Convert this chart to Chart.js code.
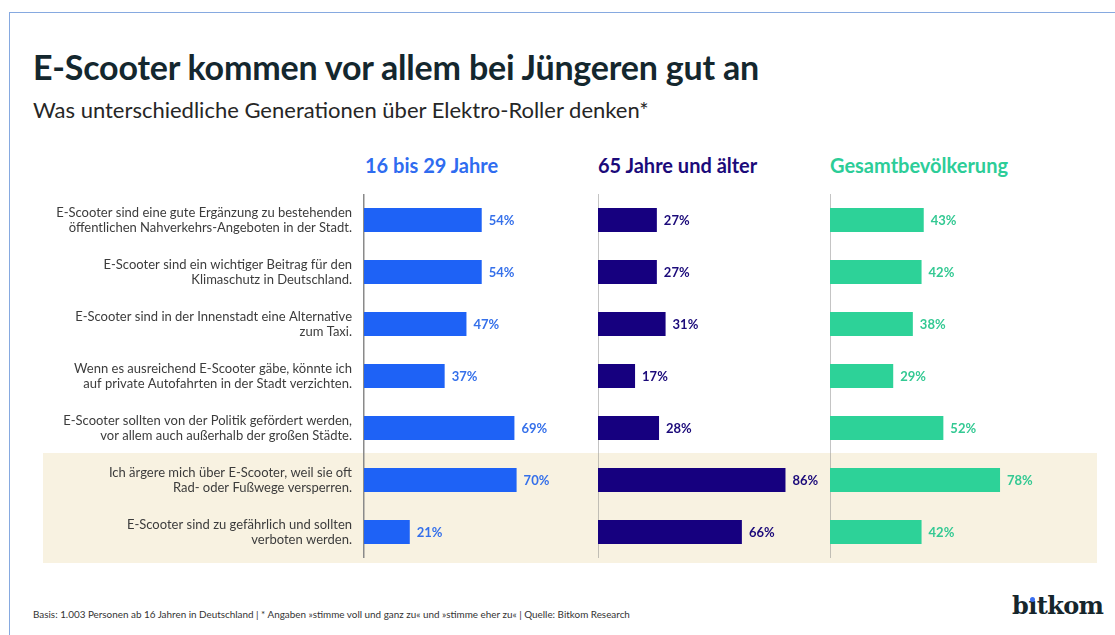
<!DOCTYPE html>
<html>
<head>
<meta charset="utf-8">
<script src="https://cdn.jsdelivr.net/npm/chart.js@4.4.1/dist/chart.umd.min.js"></script>
<style>
  html, body { margin: 0; padding: 0; background: #fff; }
  body { width: 1115px; height: 635px; position: relative; overflow: hidden; font-family: Lato, 'Open Sans', sans-serif; }
  .frameTop { position: absolute; left: 9px; top: 12px; width: 1106px; height: 1px; background: #86a9e0; }
  .frameLeft { position: absolute; left: 9px; top: 12px; width: 1px; height: 623px; background: #86a9e0; }
  .band { position: absolute; left: 43px; top: 453px; width: 1054px; height: 110px; background: #f8f2e1; }
  h1 { position: absolute; left: 33px; top: 46px; margin: 0; font-size: 34px; font-weight: 700; color: #14272e; white-space: nowrap; letter-spacing: -0.2px; }
  .sub { position: absolute; left: 33px; top: 96px; margin: 0; font-size: 22px; font-weight: 400; color: #262626; white-space: nowrap; }
  .head { position: absolute; top: 153px; font-size: 20px; font-weight: 700; white-space: nowrap; }
  canvas { position: absolute; top: 194px; }
  .foot { position: absolute; left: 33px; top: 608px; font-size: 9.9px; color: #333; white-space: nowrap; }
  .logo { position: absolute; left: 1012px; top: 592px; font-family: 'DejaVu Serif', serif; font-weight: 700; font-size: 24px; line-height: 28px; color: #16262c; white-space: nowrap; letter-spacing: -0.6px; }
  .dot { position: absolute; left: 1030px; top: 597px; width: 5px; height: 5px; border-radius: 3px; background: #3a6ff0; }
</style>
</head>
<body>
<div class="frameTop"></div>
<div class="frameLeft"></div>
<div class="band"></div>
<h1 id="title"></h1>
<div class="sub" id="subtitle"></div>
<div class="head" id="h0" style="left:365px;color:#2f6cf0"></div>
<div class="head" id="h1" style="left:598px;color:#1b0a7a"></div>
<div class="head" id="h2" style="left:830px;color:#2ccd98"></div>
<canvas id="c0" width="568" height="364" style="left:30px"></canvas>
<canvas id="c1" width="232" height="364" style="left:598px"></canvas>
<canvas id="c2" width="260" height="364" style="left:830px"></canvas>
<div class="foot" id="foot"></div>
<div class="logo" id="logo">bıtkom</div>
<div class="dot" id="dot"></div>
<script>
const titleText = 'E-Scooter kommen vor allem bei Jüngeren gut an';
const subtitleText = 'Was unterschiedliche Generationen über Elektro-Roller denken*';
const footText = 'Basis: 1.003 Personen ab 16 Jahren in Deutschland | * Angaben »stimme voll und ganz zu« und »stimme eher zu« | Quelle: Bitkom Research';

const categories = [
  ['E-Scooter sind eine gute Ergänzung zu bestehenden', 'öffentlichen Nahverkehrs-Angeboten in der Stadt.'],
  ['E-Scooter sind ein wichtiger Beitrag für den', 'Klimaschutz in Deutschland.'],
  ['E-Scooter sind in der Innenstadt eine Alternative', 'zum Taxi.'],
  ['Wenn es ausreichend E-Scooter gäbe, könnte ich', 'auf private Autofahrten in der Stadt verzichten.'],
  ['E-Scooter sollten von der Politik gefördert werden,', 'vor allem auch außerhalb der großen Städte.'],
  ['Ich ärgere mich über E-Scooter, weil sie oft', 'Rad- oder Fußwege versperren.'],
  ['E-Scooter sind zu gefährlich und sollten', 'verboten werden.']
];
const groups = ['16 bis 29 Jahre', '65 Jahre und älter', 'Gesamtbevölkerung'];
const young = [54, 54, 47, 37, 69, 70, 21];
const old = [27, 27, 31, 17, 28, 86, 66];
const total = [43, 42, 38, 29, 52, 78, 42];

document.getElementById('title').textContent = titleText;
document.getElementById('subtitle').textContent = subtitleText;
document.getElementById('foot').textContent = footText;
groups.forEach((g, i) => document.getElementById('h' + i).textContent = g);

// place the blue dot over the dotless i of the logo
(function () {
  const logo = document.getElementById('logo');
  const range = document.createRange();
  range.setStart(logo.firstChild, 1);
  range.setEnd(logo.firstChild, 2);
  const r = range.getBoundingClientRect();
  const dot = document.getElementById('dot');
  dot.style.left = (r.left + r.width / 2 - 2.5 - 0.3) + 'px';
})();

const valueLabels = {
  id: 'valueLabels',
  afterDatasetsDraw(chart, args, opts) {
    const ctx = chart.ctx;
    const ds = chart.data.datasets[0];
    const meta = chart.getDatasetMeta(0);
    ctx.save();
    ctx.font = '700 13px Lato, sans-serif';
    ctx.fillStyle = opts.color;
    ctx.textBaseline = 'middle';
    ctx.textAlign = 'left';
    meta.data.forEach((bar, i) => {
      ctx.fillText(ds.data[i] + '%', bar.x + 7, bar.y + 1);
    });
    ctx.restore();
  }
};

function makeChart(id, values, color, labelColor, axisWidth, padRight, showTicks) {
  return new Chart(document.getElementById(id), {
    type: 'bar',
    data: {
      labels: categories,
      datasets: [{ data: values, backgroundColor: color, borderWidth: 0, barPercentage: 0.46, categoryPercentage: 1 }]
    },
    options: {
      indexAxis: 'y',
      responsive: false,
      animation: false,
      devicePixelRatio: 1,
      layout: { padding: { left: 0, right: padRight, top: 0, bottom: 0 } },
      plugins: { legend: { display: false }, tooltip: { enabled: false }, valueLabels: { color: labelColor } },
      scales: {
        x: { display: false, min: 0, max: 100 },
        y: {
          grid: { display: false, drawTicks: false, tickLength: 0 },
          border: { display: true, color: '#8a8a8a', width: 1.5 },
          ticks: {
            display: showTicks,
            padding: 12,
            color: '#3c3c3c',
            font: { family: 'Lato, sans-serif', size: 13, lineHeight: 1.15 }
          },
          afterFit(axis) {
            axis.width = axisWidth;
            axis.paddingTop = 0;
            axis.paddingBottom = 0;
          }
        }
      }
    },
    plugins: [valueLabels]
  });
}

makeChart('c0', young, '#1e62f6', '#3570ea', 334, 16, true);
makeChart('c1', old, '#16007f', '#1b0a7a', 0, 14, false);
makeChart('c2', total, '#2dd298', '#33c993', 0, 42, false);
</script>
</body>
</html>
